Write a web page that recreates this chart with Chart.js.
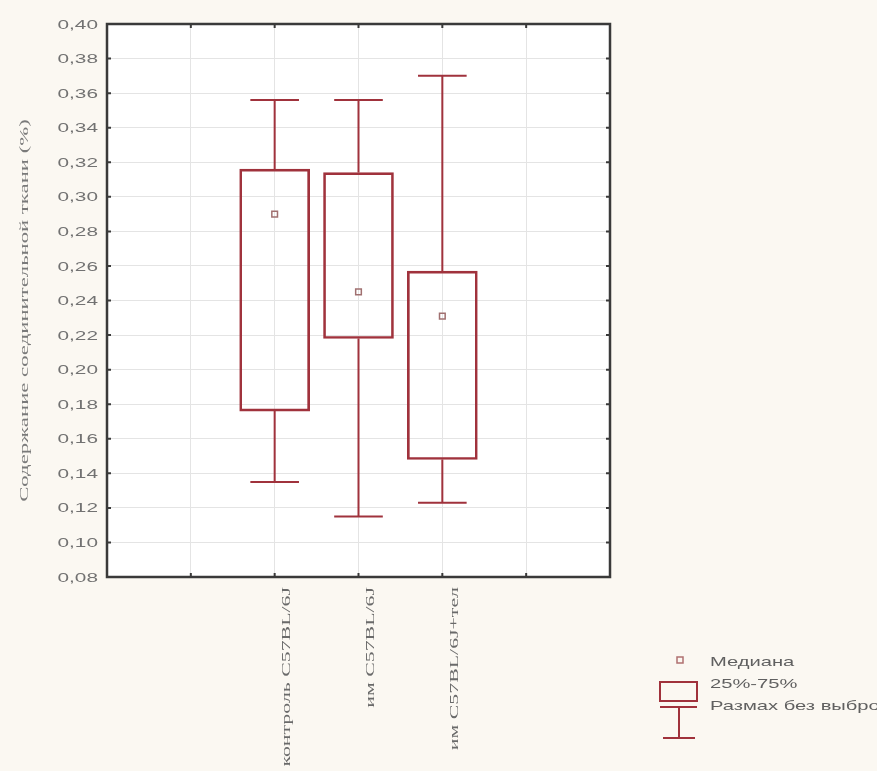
<!DOCTYPE html>
<html>
<head>
<meta charset="utf-8">
<script src="https://cdn.jsdelivr.net/npm/chart.js@4"></script>
<style>
  body { margin: 0; background: #fbf8f2; }
  #wrap { width: 877px; height: 771px; position: relative; }
</style>
</head>
<body>
<div id="wrap"><canvas id="myChart" width="877" height="771"></canvas></div>
<script>
const ctx = document.getElementById("myChart");

// данные
const groups = ["контроль C57BL/6J", "им C57BL/6J", "им C57BL/6J+тел"];
const slots = [2, 3, 4];              // позиции групп на оси x (0..6)
const mins = [0.135, 0.115, 0.123];
const q1s = [0.176, 0.218, 0.148];
const medians = [0.290, 0.245, 0.231];
const q3s = [0.316, 0.314, 0.257];
const maxs = [0.356, 0.356, 0.370];
const yTicks = [0.08, 0.10, 0.12, 0.14, 0.16, 0.18, 0.20, 0.22, 0.24, 0.26, 0.28, 0.30, 0.32, 0.34, 0.36, 0.38, 0.40];
const yTitle = "Содержание соединительной ткани (%)";
const legendLabels = ["Медиана", "25%-75%", "Размах без выбросов"];

const RED = "#a0323c";
const capHalf = 0.29; // половина ширины "усов" в единицах оси x
const SANS = "'Liberation Sans', Arial, sans-serif";
const SERIF = "'Liberation Serif', 'Times New Roman', serif";

// усы: вертикальные линии и перекладины, разделённые null
const whiskerPts = [];
slots.forEach((x, i) => {
  whiskerPts.push({ x: x, y: q3s[i] }, { x: x, y: maxs[i] }, { x: x, y: null });
  whiskerPts.push({ x: x - capHalf, y: maxs[i] }, { x: x + capHalf, y: maxs[i] }, { x: x, y: null });
  whiskerPts.push({ x: x, y: q1s[i] }, { x: x, y: mins[i] }, { x: x, y: null });
  whiskerPts.push({ x: x - capHalf, y: mins[i] }, { x: x + capHalf, y: mins[i] }, { x: x, y: null });
});

// текст в оригинале растянут вдоль строки
function stretchText(c, text, x, y, angle, sx, align) {
  c.save();
  c.translate(x, y);
  c.rotate(angle);
  c.scale(sx, 1);
  c.textAlign = align;
  c.fillText(text, 0, 0);
  c.restore();
}

// рамка, засечки, подписи осей и легенда
const framePlugin = {
  id: "frame",
  beforeDraw(chart) {
    const a = chart.chartArea;
    const c = chart.ctx;
    c.save();
    c.fillStyle = "#ffffff";
    c.fillRect(a.left, a.top, a.right - a.left, a.bottom - a.top);
    c.restore();
  },
  afterDraw(chart) {
    const a = chart.chartArea;
    const c = chart.ctx;
    const xs = chart.scales.x, ys = chart.scales.y;
    c.save();
    c.strokeStyle = "#3a3a3a";
    c.lineWidth = 2.5;
    c.strokeRect(a.left, a.top, a.right - a.left, a.bottom - a.top);
    c.lineWidth = 2;
    c.beginPath();
    ys.ticks.forEach(t => {
      const y = ys.getPixelForValue(t.value);
      c.moveTo(a.left, y); c.lineTo(a.left + 4, y);
      c.moveTo(a.right, y); c.lineTo(a.right - 4, y);
    });
    xs.ticks.forEach(t => {
      const x = xs.getPixelForValue(t.value);
      c.moveTo(x, a.top); c.lineTo(x, a.top + 4);
      c.moveTo(x, a.bottom); c.lineTo(x, a.bottom - 4);
    });
    c.stroke();

    // подписи оси y
    c.fillStyle = "#727272";
    c.textBaseline = "middle";
    c.font = "13px " + SANS;
    ys.ticks.forEach(t => {
      const y = ys.getPixelForValue(t.value);
      stretchText(c, t.value.toFixed(2).replace(".", ","), a.left - 9, y + 1, 0, 1.6, "right");
    });
    c.fillStyle = "#7a7a7a";
    c.font = "13px " + SERIF;
    stretchText(c, yTitle, 25, (a.top + a.bottom) / 2 + 10, -Math.PI / 2, 1.75, "center");

    // подписи групп
    c.fillStyle = "#6a6a6a";
    c.font = "13px " + SERIF;
    slots.forEach((v, i) => {
      const x = xs.getPixelForValue(v);
      stretchText(c, groups[i], x + 12, a.bottom + 10, -Math.PI / 2, 1.68, "right");
    });

    // легенда
    const lx = a.right + 50, ly = 660;
    c.strokeStyle = "#b07070";
    c.lineWidth = 1.5;
    c.strokeRect(lx + 17, ly - 3, 6, 6);
    c.strokeStyle = RED;
    c.lineWidth = 2;
    c.strokeRect(lx, ly + 22, 37, 19);
    c.beginPath();
    c.moveTo(lx, ly + 47); c.lineTo(lx + 37, ly + 47);
    c.moveTo(lx + 19, ly + 47); c.lineTo(lx + 19, ly + 78);
    c.moveTo(lx + 3, ly + 78); c.lineTo(lx + 35, ly + 78);
    c.stroke();
    c.fillStyle = "#606060";
    c.font = "13px " + SANS;
    stretchText(c, legendLabels[0], lx + 50, ly + 2, 0, 1.55, "left");
    stretchText(c, legendLabels[1], lx + 50, ly + 24, 0, 1.55, "left");
    stretchText(c, legendLabels[2], lx + 50, ly + 46, 0, 1.55, "left");
    c.restore();
  }
};

new Chart(ctx, {
  type: "bar",
  data: {
    datasets: [
      {
        type: "line",
        label: "Размах",
        data: whiskerPts,
        borderColor: RED,
        borderWidth: 2,
        pointRadius: 0,
        spanGaps: false,
        tension: 0,
      },
      {
        type: "bar",
        label: "25%-75%",
        data: slots.map((x, i) => ({ x: x, y: [q1s[i], q3s[i]] })),
        backgroundColor: "rgba(255,255,255,0)",
        borderColor: RED,
        borderWidth: 2,
        borderSkipped: false,
        barThickness: 70,
      },
      {
        type: "scatter",
        label: "Медиана",
        data: slots.map((x, i) => ({ x: x, y: medians[i] })),
        pointStyle: "rect",
        pointRadius: 4,
        borderColor: "#a07070",
        borderWidth: 1.5,
        backgroundColor: "rgba(255,255,255,0)",
      },
    ],
  },
  options: {
    responsive: false,
    animation: false,
    layout: { padding: { top: 24, right: 267, bottom: 0, left: 0 } },
    plugins: { legend: { display: false }, tooltip: { enabled: false } },
    scales: {
      x: {
        type: "linear",
        min: 0,
        max: 6,
        offset: false,
        afterBuildTicks: s => { s.ticks = [1, 2, 3, 4, 5].map(v => ({ value: v })); },
        afterFit: s => { s.height = 194; },
        grid: { color: "#e4e4e4", drawTicks: false, lineWidth: 1, offset: false },
        border: { display: false },
        ticks: { display: false },
      },
      y: {
        min: 0.08,
        max: 0.40,
        afterBuildTicks: s => { s.ticks = yTicks.map(v => ({ value: v })); },
        afterFit: s => { s.width = 107; },
        grid: { color: "#e4e4e4", drawTicks: false, lineWidth: 1 },
        border: { display: false },
        ticks: { display: false },
      },
    },
  },
  plugins: [framePlugin],
});
</script>
</body>
</html>
